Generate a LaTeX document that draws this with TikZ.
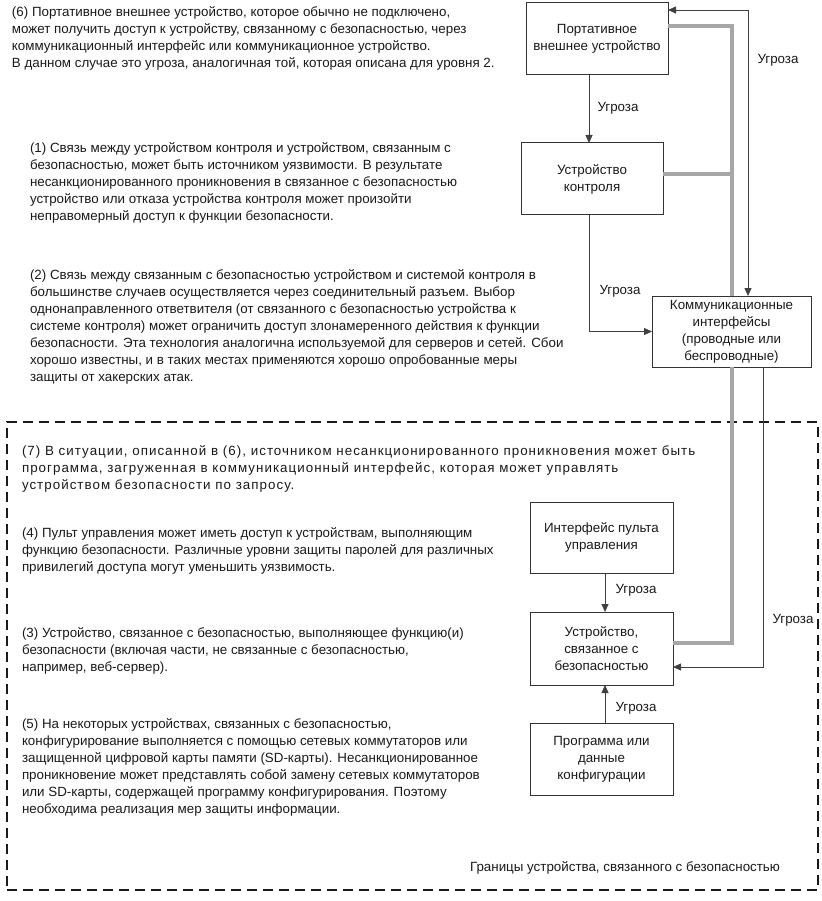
\documentclass[tikz,border=0pt]{standalone}
\usepackage{fontspec}
\setmainfont{Liberation Sans}
\newfontfamily\widefont[LetterSpace=7.7]{Liberation Sans}
\usetikzlibrary{arrows.meta,calc}
\definecolor{ink}{HTML}{1A1A1A}
\definecolor{edge}{HTML}{333333}
\definecolor{thin}{HTML}{404040}
\definecolor{bus}{HTML}{A6A6A6}
\newcommand{\fs}{\fontsize{13.35}{17}\selectfont}
\begin{document}
\begin{tikzpicture}[x=1pt,y=-1pt,
  every node/.style={text=ink},
  txt/.style={inner sep=0pt, outer sep=0pt, anchor=base west, font=\fs},
  lbl/.style={inner sep=0pt, font=\fs},
  box/.style={draw=edge, line width=1pt, fill=white, inner sep=0pt, outer sep=0pt, align=center, font=\fs},
  thr/.style={draw=thin, line width=0.8pt, -{Triangle[length=8pt,width=7pt]}},
  thrline/.style={draw=thin, line width=0.8pt},
  busline/.style={draw=bus, line width=4pt},
  bound/.style={draw=ink, line width=1.2pt, dash pattern=on 10pt off 6pt, inner sep=0pt, minimum width=811pt, minimum height=468pt}
]
\useasboundingbox (0,0) rectangle (821,901);
\fill[white] (0,0) rectangle (821,901);

% boundary
\node[bound] (boundary) at (412.5,656) {};

% boxes
\node[box, minimum width=142pt, minimum height=72pt] (pext) at (597,39) {Портативное\\внешнее устройство};
\node[box, minimum width=142pt, minimum height=72pt] (ctrl) at (592,179) {Устройство\\контроля};
\node[box, minimum width=159pt, minimum height=71pt] (comm) at (731.5,331.5) {Коммуникационные\\интерфейсы\\(проводные или\\беспроводные)};
\node[box, minimum width=143pt, minimum height=71pt] (panel) at (601.5,537.5) {Интерфейс пульта\\управления};
\node[box, minimum width=143pt, minimum height=73pt] (safe) at (601.5,648.5) {Устройство,\\связанное с\\безопасностью};
\node[box, minimum width=143pt, minimum height=72pt] (conf) at (601.5,759) {Программа или\\данные\\конфигурации};

% gray bus
\coordinate (gctrl) at ($(ctrl.east)+(0,-5)$);
\draw[busline] ($(pext.east)+(0,-13)$) -| (comm.north);
\draw[busline] (gctrl) -- (gctrl -| comm.north);
\draw[busline] (comm.south) |- ($(safe.east)+(0,-5.5)$);

% threat arrows
\draw[thr] ($(pext.south)+(-8,0)$) -- ($(ctrl.north)+(-3,0)$);
\draw[thr] ($(ctrl.south)+(-3,0)$) |- (comm.west);
\draw[thrline, {Triangle[length=8pt,width=7pt]}-{Triangle[length=8pt,width=7pt]}] ($(pext.east)+(0,-29)$) -| ($(comm.north)+(16.5,0)$);
\draw[thr] ($(comm.south)+(31.5,0)$) |- ($(safe.east)+(0,18.5)$);
\draw[thr] ($(panel.south)+(3.5,0)$) -- ($(safe.north)+(3.5,0)$);
\draw[thr] ($(conf.north)+(3.5,0)$) -- ($(safe.south)+(3.5,0)$);

% threat labels
\node[lbl] (l1) at (778,60) {Угроза};
\node[lbl] (l2) at (618,108) {Угроза};
\node[lbl] (l3) at (620,291) {Угроза};
\node[lbl] (l4) at (636,590) {Угроза};
\node[lbl] (l5) at (793,620) {Угроза};
\node[lbl] (l6) at (636,708) {Угроза};
\node[lbl] (lb) at (625,868) {Границы устройства, связанного с безопасностью};

% text blocks
\node[txt] (t6) at (12,16.5) {\begin{tabular}[t]{@{}l@{}}(6) Портативное внешнее устройство, которое обычно не подключено,\\может получить доступ к устройству, связанному с безопасностью, через\\коммуникационный интерфейс или коммуникационное устройство.\\В данном случае это угроза, аналогичная той, которая описана для уровня 2.\end{tabular}};
\node[txt] (t1) at (30,153) {\begin{tabular}[t]{@{}l@{}}(1) Связь между устройством контроля и устройством, связанным с\\безопасностью, может быть источником уязвимости. В результате\\несанкционированного проникновения в связанное с безопасностью\\устройство или отказа устройства контроля может произойти\\неправомерный доступ к функции безопасности.\end{tabular}};
\node[txt] (t2) at (30,279) {\begin{tabular}[t]{@{}l@{}}(2) Связь между связанным с безопасностью устройством и системой контроля в\\большинстве случаев осуществляется через соединительный разъем. Выбор\\однонаправленного ответвителя (от связанного с безопасностью устройства к\\системе контроля) может ограничить доступ злонамеренного действия к функции\\безопасности. Эта технология аналогична используемой для серверов и сетей. Сбои\\хорошо известны, и в таких местах применяются хорошо опробованные меры\\защиты от хакерских атак.\end{tabular}};
\node[txt, font=\widefont\fs] (t7) at (22,455) {\begin{tabular}[t]{@{}l@{}}(7) В ситуации, описанной в (6), источником несанкционированного проникновения может быть\\программа, загруженная в коммуникационный интерфейс, которая может управлять\\устройством безопасности по запросу.\end{tabular}};
\node[txt] (t4) at (22,537) {\begin{tabular}[t]{@{}l@{}}(4) Пульт управления может иметь доступ к устройствам, выполняющим\\функцию безопасности. Различные уровни защиты паролей для различных\\привилегий доступа могут уменьшить уязвимость.\end{tabular}};
\node[txt] (t3) at (22,637) {\begin{tabular}[t]{@{}l@{}}(3) Устройство, связанное с безопасностью, выполняющее функцию(и)\\безопасности (включая части, не связанные с безопасностью,\\например, веб-сервер).\end{tabular}};
\node[txt] (t5) at (22,728) {\begin{tabular}[t]{@{}l@{}}(5) На некоторых устройствах, связанных с безопасностью,\\конфигурирование выполняется с помощью сетевых коммутаторов или\\защищенной цифровой карты памяти (SD-карты). Несанкционированное\\проникновение может представлять собой замену сетевых коммутаторов\\или SD-карты, содержащей программу конфигурирования. Поэтому\\необходима реализация мер защиты информации.\end{tabular}};
\end{tikzpicture}
\end{document}
